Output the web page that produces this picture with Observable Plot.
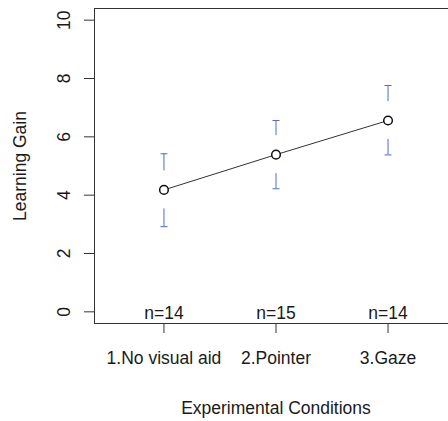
<!DOCTYPE html>
<html>
<head>
<meta charset="utf-8">
<script src="https://cdn.jsdelivr.net/npm/d3@7"></script>
<script src="https://cdn.jsdelivr.net/npm/@observablehq/plot@0.6"></script>
<style>
  html, body { margin: 0; padding: 0; background: #fff; }
  #chart svg { display: block; }
</style>
</head>
<body>
<div id="chart"></div>
<script>
// ---- data ----
const groups = ["1.No visual aid", "2.Pointer", "3.Gaze"];
const groupPos = [1, 2, 3];
const means = [4.18, 5.39, 6.56];
const ciUpper = [5.42, 6.56, 7.76];
const ciLower = [2.92, 4.22, 5.38];
const counts = [14, 15, 14];
const yTicks = [0, 2, 4, 6, 8, 10];
const xTitle = "Experimental Conditions";
const yTitle = "Learning Gain";

// gap (in y units) between the mean marker and the CI bars
const gap = 0.65;

const rows = groups.map((g, i) => ({
  group: g, x: groupPos[i], mean: means[i], hi: ciUpper[i], lo: ciLower[i], n: counts[i]
}));

const hline = {
  draw(ctx, size) {
    const r = Math.sqrt(size / Math.PI);
    ctx.moveTo(-r, 0);
    ctx.lineTo(r, 0);
  }
};

const ciColor = "#5068dc";
const ink = "#1a1a1a";

const chart = Plot.plot({
  width: 448,
  height: 421,
  marginLeft: 94,
  marginTop: 8,
  marginBottom: 98,
  marginRight: -9,
  x: { domain: [0.38, 3.62], axis: null },
  y: { domain: [-0.4, 10.4], axis: null },
  style: { fontFamily: "'Liberation Sans', Arial, sans-serif", fontSize: "17.5px", color: ink, background: "#fff" },
  marks: [
    Plot.frame({ stroke: "#333", strokeWidth: 1 }),
    Plot.axisY({ ticks: yTicks, tickSize: 10, tickFormat: () => "", stroke: "#333", label: null }),
    Plot.text(yTicks, { y: d => d, text: d => String(d), frameAnchor: "left", dx: -30, rotate: -90, textAnchor: "middle", lineAnchor: "middle", fill: ink }),
    Plot.axisX({ ticks: groupPos, tickSize: 10, tickFormat: () => "", stroke: "#333", label: null }),
    // CI bars (with gap around the mean)
    Plot.ruleX(rows, { x: "x", y1: "hi", y2: d => d.mean + gap, stroke: ciColor, strokeWidth: 1 }),
    Plot.ruleX(rows, { x: "x", y1: d => d.mean - gap, y2: "lo", stroke: ciColor, strokeWidth: 1 }),
    Plot.dot(rows, { x: "x", y: "hi", symbol: hline, r: 3.5, stroke: ciColor, strokeWidth: 1 }),
    Plot.dot(rows, { x: "x", y: "lo", symbol: hline, r: 3.5, stroke: ciColor, strokeWidth: 1 }),
    // means
    Plot.line(rows, { x: "x", y: "mean", stroke: "#333", strokeWidth: 1 }),
    Plot.dot(rows, { x: "x", y: "mean", r: 4.3, stroke: "#111", strokeWidth: 1.5, fill: "#fff" }),
    // n labels
    Plot.text(rows, { x: "x", text: d => `n=${d.n}`, frameAnchor: "bottom", dy: -10, lineAnchor: "middle", fill: ink }),
    // category labels
    Plot.text(rows, { x: "x", text: "group", frameAnchor: "bottom", dy: 35, lineAnchor: "middle", fill: ink }),
    // titles
    Plot.text([xTitle], { text: d => d, frameAnchor: "bottom", dy: 85, lineAnchor: "middle", fill: ink }),
    Plot.text([yTitle], { text: d => d, frameAnchor: "left", dx: -74, rotate: -90, textAnchor: "middle", lineAnchor: "middle", fill: ink })
  ]
});

document.getElementById("chart").appendChild(chart);
</script>
</body>
</html>
